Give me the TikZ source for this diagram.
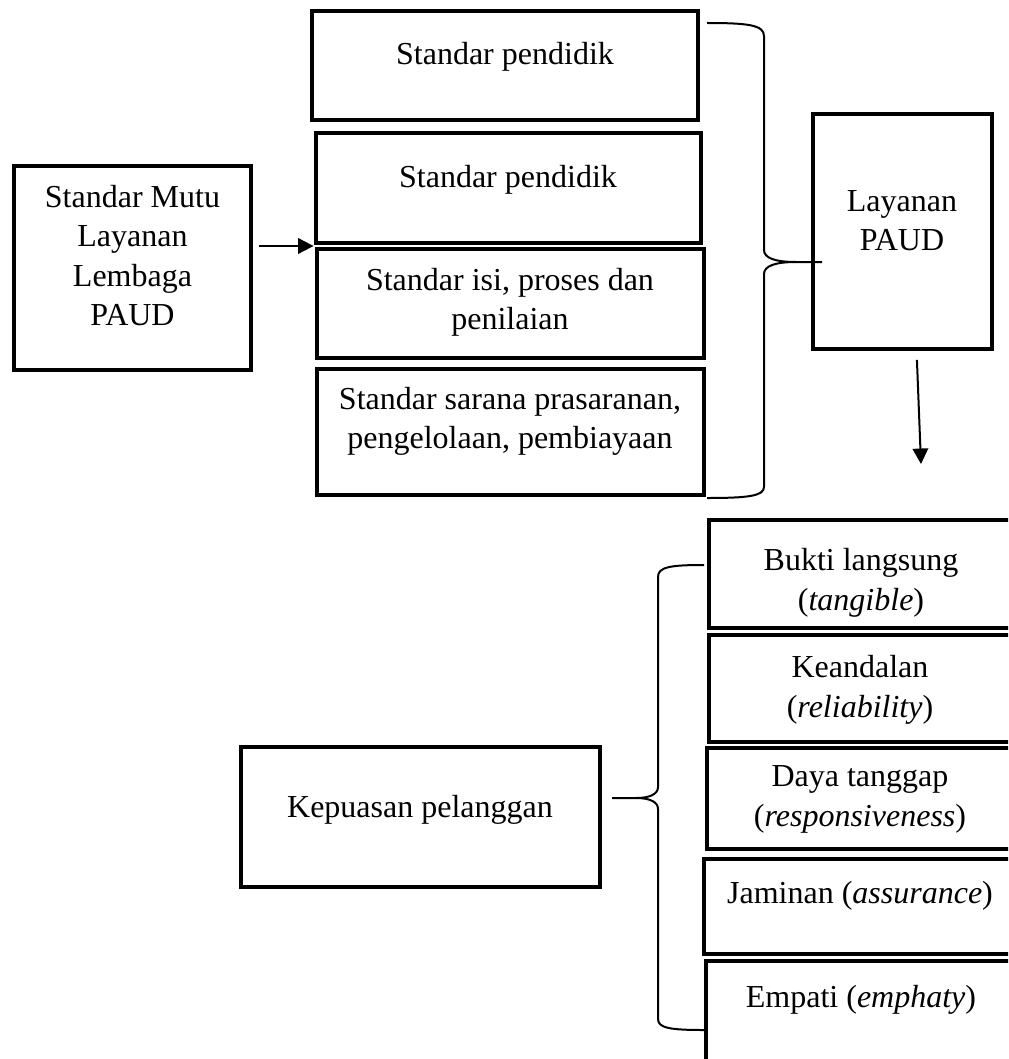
\documentclass[tikz,border=0pt]{standalone}
\usepackage{fontspec}
\setmainfont{Liberation Serif}
\usetikzlibrary{arrows.meta,calc}
\newcommand{\pxl}{0.375pt}
\newcommand{\bx}[5]{\node[boxn, minimum width={(#3-#1)*\pxl}, minimum height={(#4-#2)*\pxl}] (#5) at ({(#1+#3)/2},{(#2+#4)/2}) {};}
\begin{document}
\begin{tikzpicture}[x=0.375pt,y=-0.375pt,
  boxn/.style={draw, line width=1.5pt, inner sep=0pt, outer sep=0pt, rectangle},
  txt/.style={align=center, inner sep=0pt, font=\fontsize{12pt}{14.8pt}\selectfont},
  arr/.style={line width=0.75pt, -{Triangle[length=5.8pt,width=5.8pt]}},
  brc/.style={line width=0.75pt}]
\useasboundingbox (0,0) rectangle (1008,1059);
\clip (0,0) rectangle (1008,1059);
% boxes
\bx{14}{166}{251}{370}{A}
\bx{312}{11}{697.5}{120.5}{B1}
\bx{315.5}{133}{700.5}{243}{B2}
\bx{317}{249}{703.5}{358}{B3}
\bx{317}{369}{703.5}{495}{B4}
\bx{813}{114}{991.5}{349}{L}
\bx{241}{747}{600}{887}{K}
\bx{708.5}{519.5}{1012}{627.5}{R1}
\bx{708.5}{635}{1012}{742}{R2}
\bx{706.5}{748}{1012}{849}{R3}
\bx{704}{859}{1012}{954}{R4}
\bx{706}{961}{1012}{1075}{R5}
% texts
\node[txt] (tA) at (132.5,255.5) {Standar Mutu\\Layanan\\Lembaga\\PAUD};
\node[txt, anchor=base] (tB1) at (505,65) {Standar pendidik};
\node[txt, anchor=base] (tB2) at (508,187) {Standar pendidik};
\node[txt] (tB3) at (510,302.5) {Standar isi, proses dan\\penilaian};
\node[txt] (tB4) at (510,421.5) {Standar sarana prasaranan,\\pengelolaan, pembiayaan};
\node[txt] (tL) at (902,220.5) {Layanan\\PAUD};
\node[txt, anchor=base] (tK) at (420,817) {Kepuasan pelanggan};
\node[txt] (tR1) at (861,583) {Bukti langsung\\(\textit{tangible})};
\node[txt] (tR2) at (860,690) {Keandalan\\(\textit{reliability})};
\node[txt] (tR3) at (860,799.5) {Daya tanggap\\(\textit{responsiveness})};
\node[txt, anchor=base] (tR4) at (860,903) {Jaminan (\textit{assurance})};
\node[txt, anchor=base] (tR5) at (861,1007) {Empati (\textit{emphaty})};
% arrows
\coordinate (jn) at ($(B2.south west)!0.5!(B3.north west)$);
\coordinate (js) at (A.east |- jn);
\draw[arr] ([xshift=3pt]js) -- ([xshift=-1pt]jn);
\coordinate (ds) at ([xshift=5.5pt,yshift=-4.1pt]L.south);
\coordinate (de) at (921,464);
\draw[arr] (ds) -- (de);
% braces
\draw[brc] (707,23) .. controls (748,23) and (764,25) .. (764,36) -- (764,250) .. controls (764,258) and (775,262) .. (796,262) -- (822,262);
\draw[brc] (796,262) .. controls (775,262) and (764,266) .. (764,274) -- (764,487) .. controls (764,496) and (748,498) .. (707,498);
\draw[brc] (704,565) .. controls (670,565) and (658,567) .. (658,577) -- (658,787) .. controls (658,794) and (650,798) .. (636,798) -- (612,798);
\draw[brc] (636,798) .. controls (650,798) and (658,802) .. (658,809) -- (658,1019) .. controls (658,1028) and (670,1030) .. (704,1030);
\end{tikzpicture}
\end{document}
